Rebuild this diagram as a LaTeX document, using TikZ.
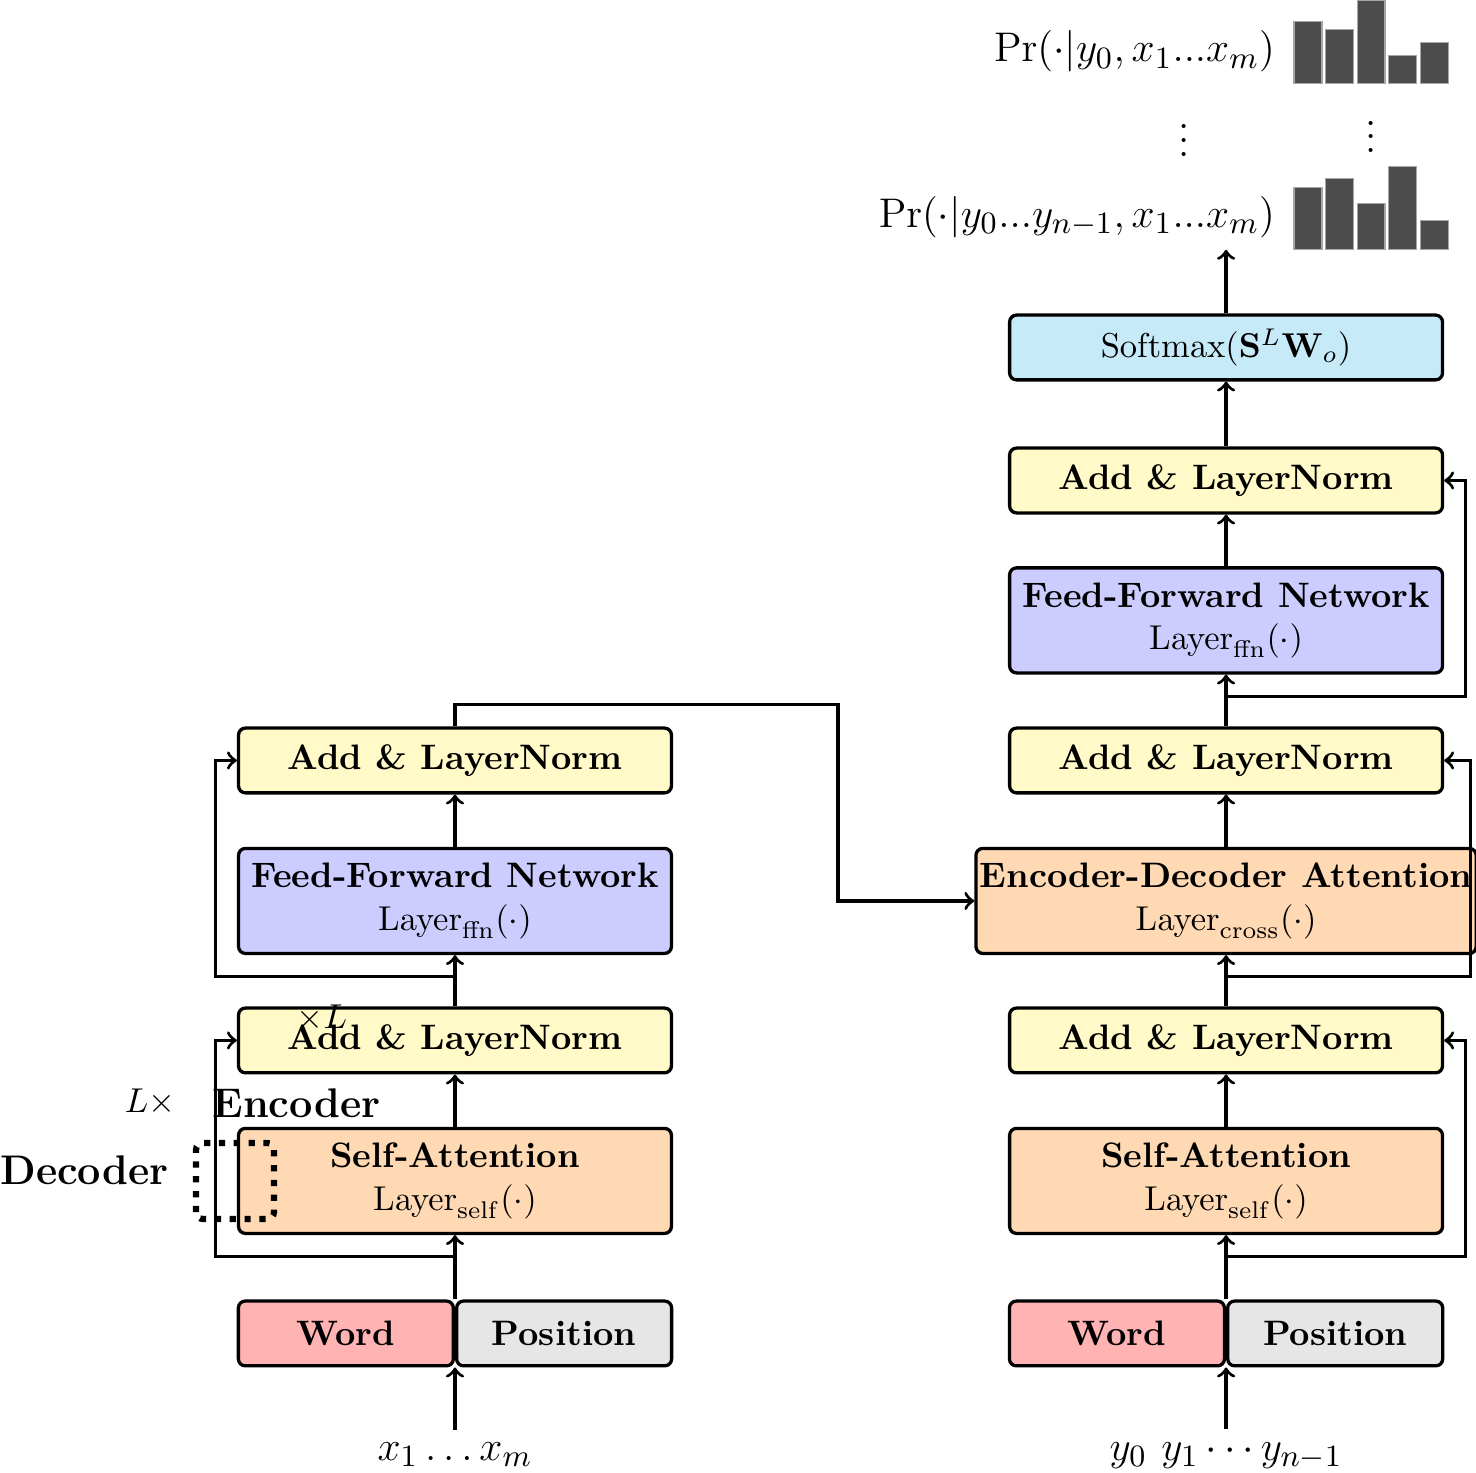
\documentclass[tikz,border=0pt]{standalone}
\usepackage{xcolor}
\usepackage{tikz}
\usetikzlibrary{calc}

\definecolor{lnyellow}{RGB}{255,250,200}
\definecolor{ffnblue}{RGB}{204,204,255}
\definecolor{attnorange}{RGB}{255,217,179}
\definecolor{wordred}{RGB}{255,179,179}
\definecolor{posgray}{RGB}{230,230,230}
\definecolor{smblue}{RGB}{198,234,248}

\tikzset{
    layerbox/.style={draw, line width=0.95pt, rounded corners=2pt, minimum width=4.41cm, align=center, inner xsep=1.1pt},
    lnbox/.style={layerbox, fill=lnyellow, minimum height=0.66cm, font=\bfseries},
    bigbox/.style={layerbox, minimum height=1.07cm},
    embbox/.style={draw, line width=0.95pt, rounded corners=2pt, minimum width=2.19cm, minimum height=0.66cm, font=\bfseries},
    arr/.style={->, line width=0.95pt},
    biglabel/.style={font=\fontsize{12.7}{15}\selectfont},
}

\begin{document}
\fontsize{10.25}{12.3}\selectfont
\begin{tikzpicture}
    \useasboundingbox (0,0) rectangle (15.036,15.005);

    % Encoder stack
    \node[embbox, fill=wordred, anchor=east] (wordL) at (4.635,1.421) {Word};
    \node[embbox, fill=posgray, anchor=west] (posL) at (4.635,1.421) {Position};
    \node[bigbox, fill=attnorange] (saL) at (4.635,2.975) {\textbf{Self-Attention}\\$\mathrm{Layer}_{\mathrm{self}}(\cdot)$};
    \node[lnbox] (alnA) at (4.635,4.406) {Add \& LayerNorm};
    \node[bigbox, fill=ffnblue] (ffnL) at (4.635,5.827) {\textbf{Feed-Forward Network}\\$\mathrm{Layer}_{\mathrm{ffn}}(\cdot)$};
    \node[lnbox] (alnB) at (4.635,7.258) {Add \& LayerNorm};

    % Decoder stack
    \node[embbox, fill=wordred, anchor=east] (wordR) at (12.49,1.421) {Word};
    \node[embbox, fill=posgray, anchor=west] (posR) at (12.49,1.421) {Position};
    \node[bigbox, fill=attnorange] (saR) at (12.49,2.975) {\textbf{Self-Attention}\\$\mathrm{Layer}_{\mathrm{self}}(\cdot)$};
    \node[lnbox] (alnC) at (12.49,4.406) {Add \& LayerNorm};
    \node[bigbox, fill=attnorange] (ed) at (12.49,5.827) {\textbf{Encoder-Decoder Attention}\\$\mathrm{Layer}_{\mathrm{cross}}(\cdot)$};
    \node[lnbox] (alnD) at (12.49,7.258) {Add \& LayerNorm};
    \node[bigbox, fill=ffnblue] (ffnR) at (12.49,8.685) {\textbf{Feed-Forward Network}\\$\mathrm{Layer}_{\mathrm{ffn}}(\cdot)$};
    \node[lnbox] (alnE) at (12.49,10.11) {Add \& LayerNorm};
    \node[layerbox, fill=smblue, minimum height=0.66cm] (sm) at (12.49,11.465) {$\mathrm{Softmax}(\mathbf{S}^L\mathbf{W}_o)$};

    % Inputs and outputs
    \node[anchor=base, biglabel] (xl) at (4.635,0.13) {$x_1 \ldots x_m$};
    \node[anchor=base, biglabel] (yl) at (12.49,0.13) {$y_0\ y_1 \cdots y_{n-1}$};
    \coordinate (out) at (12.49,12.46);
    \node[anchor=east, biglabel] (prn) at (13.115,12.795) {$\Pr(\cdot|y_0...y_{n-1},x_1...x_m)$};
    \node[anchor=east, biglabel] (pr0) at (13.115,14.48) {$\Pr(\cdot|y_0,x_1...x_m)$};
    \node[anchor=base, font=\large] (vdA) at (12.061,13.41) {$\vdots$};
    \node[anchor=base, font=\large] (vdB) at (13.963,13.45) {$\vdots$};

    % Output distributions
    \foreach \h [count=\i from 0] in {0.635,0.553,0.849,0.285,0.425}
        \filldraw[fill=black!70, draw=black!35, line width=0.3pt] ({13.182+0.321*\i},14.15) rectangle ++(0.285,\h);
    \foreach \h [count=\i from 0] in {0.639,0.723,0.469,0.849,0.298}
        \filldraw[fill=black!70, draw=black!35, line width=0.3pt] ({13.182+0.321*\i},12.459) rectangle ++(0.285,\h);

    % Stray labels
    \node[anchor=base] (rep) at (3.28,4.523) {$\times L$};
    \node[anchor=base] (repL) at (1.528,3.677) {$L\times$};
    \node[anchor=base, font=\large\bfseries] (enclabel) at (3.02,3.616) {Encoder};
    \node[anchor=base, font=\large\bfseries] (declabel) at (0.861,2.934) {Decoder};
    \draw[line width=1.8pt, dash pattern=on 1.8pt off 2.5pt, rounded corners=2pt] (1.997,2.587) rectangle (2.791,3.362);

    % Encoder connectors
    \draw[arr] (xl.north) -- (wordL.south east);
    \draw[arr] (wordL.north east) -- (saL.south);
    \draw[arr] (saL.north) -- (alnA.south);
    \draw[arr] (alnA.north) -- (ffnL.south);
    \draw[arr] (ffnL.north) -- (alnB.south);
    \coordinate (skipA) at ($(saL.south)+(0,-0.22)$);
    \draw[arr] (skipA) -| ($(alnA.west)+(-0.22,0)$) -- (alnA.west);
    \coordinate (skipB) at ($(ffnL.south)+(0,-0.22)$);
    \draw[arr] (skipB) -| ($(alnB.west)+(-0.22,0)$) -- (alnB.west);

    % Encoder to decoder
    \coordinate (encout) at ($(alnB.north)+(0,0.22)$);
    \draw[arr] (alnB.north) -- (encout) -| (8.536,5.827) -- (ed.west);

    % Decoder connectors
    \draw[arr] (yl.north) -- (wordR.south east);
    \draw[arr] (wordR.north east) -- (saR.south);
    \draw[arr] (saR.north) -- (alnC.south);
    \draw[arr] (alnC.north) -- (ed.south);
    \draw[arr] (ed.north) -- (alnD.south);
    \draw[arr] (alnD.north) -- (ffnR.south);
    \draw[arr] (ffnR.north) -- (alnE.south);
    \draw[arr] (alnE.north) -- (sm.south);
    \draw[arr] (sm.north) -- (out);
    \coordinate (skipC) at ($(saR.south)+(0,-0.22)$);
    \draw[arr] (skipC) -| ($(alnC.east)+(0.22,0)$) -- (alnC.east);
    \coordinate (skipD) at ($(ed.south)+(0,-0.22)$);
    \draw[arr] (skipD) -| ($(alnD.east)+(0.265,0)$) -- (alnD.east);
    \coordinate (skipE) at ($(ffnR.south)+(0,-0.22)$);
    \draw[arr] (skipE) -| ($(alnE.east)+(0.22,0)$) -- (alnE.east);
\end{tikzpicture}
\end{document}
